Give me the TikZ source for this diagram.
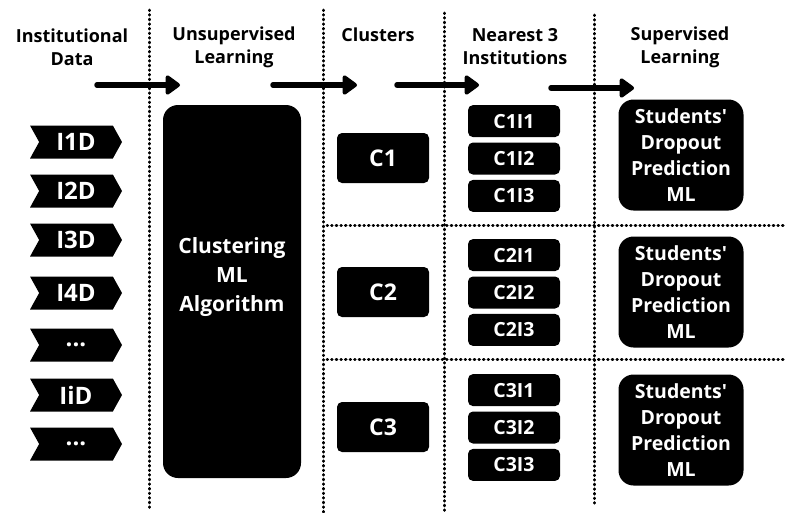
\documentclass[tikz,border=0pt]{standalone}
\usepackage{fontspec}
\IfFontExistsTF{Open Sans ExtraBold}
    {\setmainfont{Open Sans}[BoldFont={Open Sans ExtraBold}]}
    {\setmainfont{Open Sans}}
\usetikzlibrary{shapes.symbols,arrows.meta,positioning}

\begin{document}
\begin{tikzpicture}[x=1pt, y=-1pt, node distance=5pt,
        head/.style = {align=center, font=\bfseries\fontsize{18}{23}\selectfont},
        sep/.style = {line width=3pt, line cap=round, dash pattern=on 0.6pt off 4pt},
        flow/.style = {line width=5.5pt, line cap=round, -{Triangle[length=16pt, width=22pt, round]}},
        data/.style = {signal, signal from=west, signal to=east, signal pointer angle=122, fill=black, text=white,
                       minimum width=92pt, minimum height=33pt, inner sep=0pt, font=\bfseries\fontsize{24}{26}\selectfont},
        box/.style = {fill=black, text=white, rounded corners=5pt, inner sep=0pt, align=center},
        cluster/.style = {box, minimum width=92pt, minimum height=50pt, font=\bfseries\fontsize{23}{26}\selectfont},
        inst/.style = {box, minimum width=92pt, minimum height=32pt, font=\bfseries\fontsize{19.5}{22}\selectfont},
        model/.style = {box, rounded corners=15pt, minimum width=125pt, minimum height=111pt, font=\bfseries\fontsize{19.5}{26}\selectfont}]
    \useasboundingbox (0,0) rectangle (786,512);

    \draw[sep] (149,10) -- (149,510);
    \draw[sep] (323,10) -- (323,512);
    \draw[sep] (444,13) -- (444,512);
    \draw[sep] (594,15) -- (594,505);
    \draw[sep] (327,225) -- (786,225);
    \draw[sep] (327,359) -- (786,359);

    \node[head] (hdata) at (72,47) {Institutional\\Data};
    \node[head] (hunsup) at (234,47) {Unsupervised\\Learning};
    \node[head] (hclust) at (378,35) {Clusters};
    \node[head] (hnear) at (515,47) {Nearest 3\\Institutions};
    \node[head] (hsup) at (680,47) {Supervised\\Learning};

    \coordinate (a1s) at (97,85);  \coordinate (a1e) at (180,85);
    \coordinate (a2s) at (273,85); \coordinate (a2e) at (357,85);
    \coordinate (a3s) at (397,85); \coordinate (a3e) at (479,85);
    \coordinate (a4s) at (551,88); \coordinate (a4e) at (634,88);
    \draw[flow] (a1s) -- (a1e);
    \draw[flow] (a2s) -- (a2e);
    \draw[flow] (a3s) -- (a3e);
    \draw[flow] (a4s) -- (a4e);

    \node[data] (d1) at (76,142) {I1D};
    \node[data] (d2) at (76,191) {I2D};
    \node[data] (d3) at (76,240) {I3D};
    \node[data] (d4) at (76,293) {I4D};
    \node[data] (d5) at (76,345) {...};
    \node[data] (di) at (76,395) {IiD};
    \node[data] (d6) at (76,444) {...};

    \node[box, rounded corners=15pt, minimum width=138pt, minimum height=373pt] (algo) at (232,291.5) {};
    \node[text=white, align=center, font=\bfseries\fontsize{21}{29}\selectfont] (algotxt) at ([yshift=14pt]algo.center) {Clustering\\ML\\Algorithm};

    \node[cluster] (c1) at (383,158) {C1};
    \node[cluster] (c2) at (383,292) {C2};
    \node[cluster] (c3) at (383,427) {C3};

    \node[inst] (c1i2) at (514,158.5) {C1I2};
    \node[inst, above=of c1i2] (c1i1) {C1I1};
    \node[inst, below=of c1i2] (c1i3) {C1I3};
    \node[inst] (c2i2) at (514,292.5) {C2I2};
    \node[inst, above=of c2i2] (c2i1) {C2I1};
    \node[inst, below=of c2i2] (c2i3) {C2I3};
    \node[inst] (c3i2) at (514,427.5) {C3I2};
    \node[inst, above=of c3i2] (c3i1) {C3I1};
    \node[inst, below=of c3i2] (c3i3) {C3I3};

    \node[model] (m1) at (681,155) {Students\textquotesingle\\Dropout\\Prediction\\ML};
    \node[model] (m2) at (681,292) {Students\textquotesingle\\Dropout\\Prediction\\ML};
    \node[model] (m3) at (681,430) {Students\textquotesingle\\Dropout\\Prediction\\ML};
\end{tikzpicture}
\end{document}
